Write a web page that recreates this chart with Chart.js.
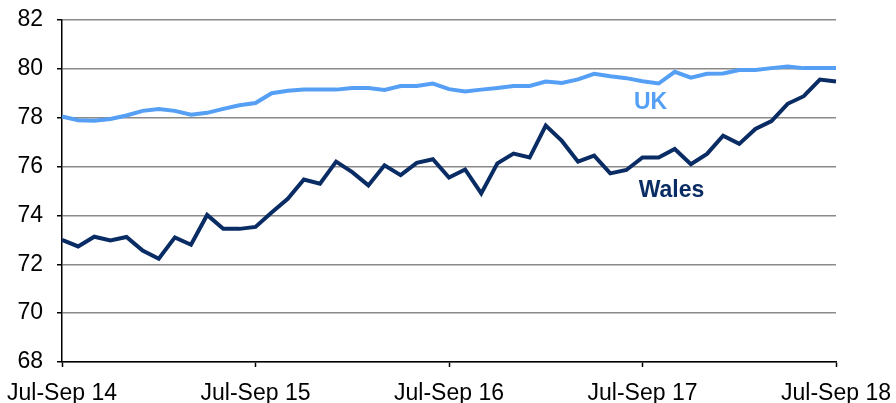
<!DOCTYPE html>
<html>
<head>
<meta charset="utf-8">
<script src="https://cdn.jsdelivr.net/npm/chart.js@4/dist/chart.umd.min.js"></script>
<style>
    html, body { margin: 0; padding: 0; background: #fff; }
    #wrap { width: 896px; height: 403px; }
</style>
</head>
<body>
<div id="wrap"><canvas id="chart"></canvas></div>
<script>
// rolling quarters, Jul-Sep 14 to Jul-Sep 18 (monthly)
const quarters = [
    "Jul-Sep 14", "Aug-Oct 14", "Sep-Nov 14", "Oct-Dec 14", "Nov-Jan 15", "Dec-Feb 15",
    "Jan-Mar 15", "Feb-Apr 15", "Mar-May 15", "Apr-Jun 15", "May-Jul 15", "Jun-Aug 15",
    "Jul-Sep 15", "Aug-Oct 15", "Sep-Nov 15", "Oct-Dec 15", "Nov-Jan 16", "Dec-Feb 16",
    "Jan-Mar 16", "Feb-Apr 16", "Mar-May 16", "Apr-Jun 16", "May-Jul 16", "Jun-Aug 16",
    "Jul-Sep 16", "Aug-Oct 16", "Sep-Nov 16", "Oct-Dec 16", "Nov-Jan 17", "Dec-Feb 17",
    "Jan-Mar 17", "Feb-Apr 17", "Mar-May 17", "Apr-Jun 17", "May-Jul 17", "Jun-Aug 17",
    "Jul-Sep 17", "Aug-Oct 17", "Sep-Nov 17", "Oct-Dec 17", "Nov-Jan 18", "Dec-Feb 18",
    "Jan-Mar 18", "Feb-Apr 18", "Mar-May 18", "Apr-Jun 18", "May-Jul 18", "Jun-Aug 18",
    "Jul-Sep 18"
];

const ukRate = [
    78.05, 77.9, 77.88, 77.95, 78.09, 78.28, 78.36, 78.28, 78.12, 78.2, 78.36, 78.51,
    78.6, 79.0, 79.1, 79.15, 79.15, 79.15, 79.22, 79.22, 79.14, 79.3, 79.3, 79.4,
    79.17, 79.07, 79.15, 79.22, 79.3, 79.3, 79.48, 79.42, 79.57, 79.8, 79.7, 79.62,
    79.49, 79.4, 79.88, 79.64, 79.8, 79.81, 79.95, 79.95, 80.03, 80.1, 80.03, 80.03,
    80.03
];

const walesRate = [
    73.0, 72.73, 73.13, 72.98, 73.12, 72.56, 72.23, 73.1, 72.8, 74.02, 73.45, 73.45,
    73.53, 74.12, 74.68, 75.47, 75.3, 76.2, 75.77, 75.23, 76.05, 75.65, 76.15, 76.3,
    75.55, 75.88, 74.9, 76.13, 76.53, 76.37, 77.68, 77.05, 76.2, 76.45, 75.72, 75.86,
    76.37, 76.37, 76.72, 76.1, 76.52, 77.26, 76.93, 77.54, 77.86, 78.57, 78.88, 79.56,
    79.48
];

const yTicks = [68, 70, 72, 74, 76, 78, 80, 82];

const ukColor = "#559ff5";
const walesColor = "#0a2c64";

// series name labels drawn next to the lines
const seriesLabels = [
    { text: "UK", x: 36.5, y: 78.6, color: ukColor },
    { text: "Wales", x: 37.8, y: 75.0, color: walesColor }
];

const labelPlugin = {
    id: "seriesLabels",
    afterDatasetsDraw(chart) {
        let ctx = chart.ctx;
        let xs = chart.scales.x;
        let ys = chart.scales.y;
        ctx.save();
        ctx.font = "bold 23px 'Liberation Sans', Arial, sans-serif";
        ctx.textAlign = "center";
        ctx.textBaseline = "middle";
        seriesLabels.forEach(l => {
            ctx.fillStyle = l.color;
            ctx.fillText(l.text, xs.getPixelForValue(l.x), ys.getPixelForValue(l.y));
        });
        ctx.restore();
    }
};

new Chart(document.getElementById("chart"), {
    type: "line",
    data: {
        labels: quarters,
        datasets: [
            {
                label: "UK",
                data: ukRate,
                borderColor: ukColor,
                borderWidth: 4,
                pointRadius: 0,
                tension: 0
            },
            {
                label: "Wales",
                data: walesRate,
                borderColor: walesColor,
                borderWidth: 4,
                pointRadius: 0,
                tension: 0
            }
        ]
    },
    options: {
        responsive: true,
        maintainAspectRatio: false,
        animation: false,
        layout: { padding: { top: 20, right: 60, left: 0, bottom: 0 } },
        plugins: {
            legend: { display: false },
            tooltip: { enabled: false }
        },
        scales: {
            x: {
                offset: false,
                border: { color: "#000", width: 1.5 },
                grid: {
                    drawOnChartArea: false,
                    tickLength: 5,
                    tickColor: ctx => (ctx.index % 12 === 0 ? "#000" : "rgba(0,0,0,0)"),
                    tickWidth: 1.5
                },
                ticks: {
                    autoSkip: false,
                    maxRotation: 0,
                    padding: 13,
                    color: "#000",
                    font: { family: "'Liberation Sans', Arial, sans-serif", size: 23 },
                    callback: (v, i) => (i % 12 === 0 ? quarters[i] : "")
                },
                afterFit: s => {
                    s.height = 41;
                    s.paddingLeft = 0;
                    s.paddingRight = 0;
                }
            },
            y: {
                min: yTicks[0],
                max: yTicks[yTicks.length - 1],
                afterBuildTicks: s => { s.ticks = yTicks.map(v => ({ value: v })); },
                border: { color: "#000", width: 1.5 },
                grid: {
                    color: "#8a8a8a",
                    lineWidth: 1.5,
                    tickLength: 5,
                    tickColor: "#000",
                    tickWidth: 1.5
                },
                ticks: {
                    padding: 14,
                    color: "#000",
                    font: { family: "'Liberation Sans', Arial, sans-serif", size: 23 }
                },
                afterFit: s => {
                    s.width = 62;
                    s.paddingTop = 0;
                    s.paddingBottom = 0;
                }
            }
        }
    },
    plugins: [labelPlugin]
});
</script>
</body>
</html>
